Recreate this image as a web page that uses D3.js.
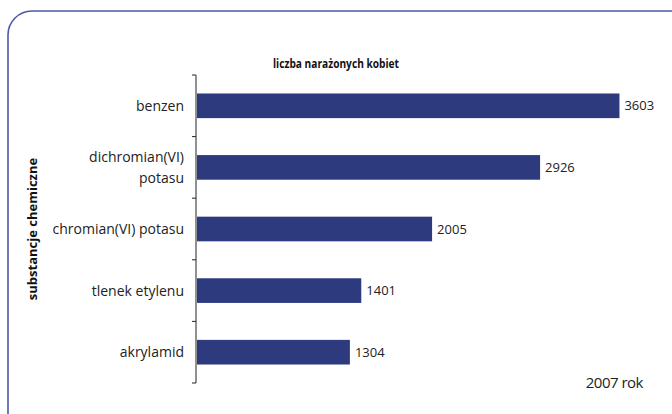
<!DOCTYPE html>
<html>
<head>
<meta charset="utf-8">
<script src="https://cdn.jsdelivr.net/npm/d3@7"></script>
<style>
  body { margin: 0; background: #fff; }
  svg { display: block; font-family: "Open Sans", sans-serif; }
</style>
</head>
<body>
<svg width="672" height="414"></svg>
<script>
const categories = ['benzen', 'dichromian(VI) potasu', 'chromian(VI) potasu', 'tlenek etylenu', 'akrylamid'];
const labelLines = [['benzen'], ['dichromian(VI)', 'potasu'], ['chromian(VI) potasu'], ['tlenek etylenu'], ['akrylamid']];
const values = [3603, 2926, 2005, 1401, 1304];

function drawChart() {
    const svg = d3.select('svg');
    const margin = { top: 75, left: 197, bottom: 383, right: 666 };

    // frame with rounded corners, partly off the page
    svg.append('rect')
        .attr('x', 8).attr('y', 11)
        .attr('width', 700).attr('height', 440)
        .attr('rx', 24)
        .style('fill', 'none')
        .style('stroke', '#4b5aa6')
        .style('stroke-width', 1.6);

    const x = d3.scaleLinear().domain([0, 4000]).range([margin.left, margin.right]);
    const y = d3.scaleBand().domain(categories).range([margin.top, margin.bottom]).paddingInner(0.6).paddingOuter(0.3);

    // axis: line and ticks between categories
    const bandY = d3.scaleLinear().domain([0, categories.length]).range([margin.top, margin.bottom]);
    const axis = svg.append('g');
    axis.append('line')
        .attr('x1', margin.left - 1).attr('x2', margin.left - 1)
        .attr('y1', margin.top).attr('y2', margin.bottom)
        .style('stroke', '#222').style('stroke-width', 1);
    axis.selectAll('.tick')
        .data(d3.range(categories.length + 1))
        .enter().append('line')
        .attr('x1', margin.left - 5).attr('x2', margin.left - 1)
        .attr('y1', d => bandY(d)).attr('y2', d => bandY(d))
        .style('stroke', '#222').style('stroke-width', 1);

    svg.selectAll('.bar')
        .data(values)
        .enter().append('rect')
        .attr('x', margin.left)
        .attr('y', (d, i) => y(categories[i]))
        .attr('width', d => x(d) - margin.left)
        .attr('height', y.bandwidth())
        .style('fill', '#2e3a7e');

    svg.selectAll('.val')
        .data(values)
        .enter().append('text')
        .attr('x', d => x(d) + 5)
        .attr('y', (d, i) => y(categories[i]) + y.bandwidth() / 2)
        .attr('dy', '0.35em')
        .style('font-size', '13px')
        .style('fill', '#222')
        .text(d => d);

    // category labels
    const lab = svg.selectAll('.lab')
        .data(labelLines)
        .enter().append('text')
        .attr('text-anchor', 'end')
        .style('font-size', '14px')
        .style('fill', '#222')
        .attr('transform', (d, i) => `translate(184, ${y(categories[i]) + y.bandwidth() / 2})`);
    lab.selectAll('tspan')
        .data(d => d.map((t, j) => ({ t, j, n: d.length })))
        .enter().append('tspan')
        .attr('x', 0)
        .attr('y', d => (d.j - (d.n - 1) / 2) * 21)
        .attr('dy', '0.35em')
        .text(d => d.t);

    svg.append('text')
        .attr('x', 336).attr('y', 68)
        .attr('text-anchor', 'middle')
        .attr('textLength', 126)
        .attr('lengthAdjust', 'spacingAndGlyphs')
        .style('font-size', '12px')
        .style('font-weight', 'bold')
        .style('fill', '#111')
        .text('liczba narażonych kobiet');

    svg.append('text')
        .attr('transform', 'translate(37, 229) rotate(-90)')
        .attr('text-anchor', 'middle')
        .style('font-size', '13px')
        .style('font-weight', 'bold')
        .style('fill', '#111')
        .text('substancje chemiczne');

    svg.append('text')
        .attr('x', 643).attr('y', 388)
        .attr('text-anchor', 'end')
        .style('font-size', '15px')
        .style('fill', '#222')
        .style('letter-spacing', '-0.5px')
        .text('2007 rok');
}

drawChart();
</script>
</body>
</html>
